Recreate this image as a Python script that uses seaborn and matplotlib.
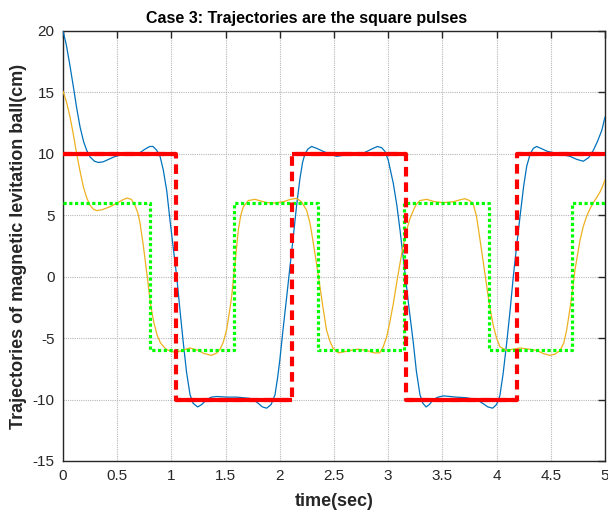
import numpy as np
import pandas as pd
import matplotlib
matplotlib.use("Agg")
import matplotlib.pyplot as plt
import seaborn as sns

# ---- data ----
blue_t = [0, 0.03, 0.06, 0.095, 0.125, 0.157, 0.19, 0.218, 0.25, 0.29, 0.326, 0.37, 0.42, 0.47,
          0.526, 0.6, 0.66, 0.71, 0.76, 0.80, 0.83, 0.864, 0.895, 0.925, 0.957, 0.987, 1.018,
          1.049, 1.08, 1.11, 1.14, 1.172, 1.20, 1.242, 1.28, 1.325, 1.37, 1.418, 1.51, 1.60,
          1.664, 1.72, 1.756, 1.80, 1.84, 1.879, 1.92, 1.956, 1.98, 2.0, 2.03, 2.064, 2.095,
          2.125, 2.155, 2.186, 2.21, 2.232, 2.26, 2.294, 2.34, 2.40, 2.46, 2.525, 2.6, 2.7,
          2.78, 2.85, 2.90, 2.94, 2.97, 3.0, 3.047, 3.08, 3.109, 3.155, 3.19, 3.232, 3.26,
          3.293, 3.32, 3.35, 3.38, 3.416, 3.46, 3.51, 3.63, 3.72, 3.816, 3.87, 3.92, 3.964,
          4.0, 4.03, 4.06, 4.093, 4.125, 4.154, 4.185, 4.216, 4.25, 4.278, 4.31, 4.339, 4.37,
          4.42, 4.47, 4.523, 4.6, 4.677, 4.74, 4.80, 4.85, 4.893, 4.93, 4.97, 5.0]
blue_y = [20.0, 18.9, 17.4, 15.5, 13.8, 12.2, 11.0, 10.3, 9.75, 9.4, 9.3, 9.35, 9.55, 9.75,
          9.9, 9.95, 10.0, 10.1, 10.4, 10.6, 10.6, 10.3, 9.8, 8.7, 7.0, 4.6, 2.3,
          0.0, -2.8, -5.4, -7.8, -9.6, -10.3, -10.6, -10.4, -10.0, -9.8, -9.75, -9.8, -9.8,
          -9.85, -9.9, -10.0, -10.3, -10.6, -10.7, -10.4, -9.6, -8.2, -6.8, -4.3, -1.6, 0.9,
          3.3, 5.8, 8.0, 9.3, 10.0, 10.4, 10.6, 10.45, 10.2, 10.0, 9.8, 9.9, 10.0,
          10.1, 10.4, 10.6, 10.5, 10.2, 9.5, 7.6, 5.8, 3.8, 0.3, -2.4, -5.4, -7.7,
          -9.6, -10.3, -10.6, -10.4, -10.0, -9.8, -9.7, -9.8, -9.85, -10.0, -10.3, -10.6, -10.7,
          -10.4, -9.7, -7.9, -5.4, -2.7, 0.0, 2.5, 4.9, 7.4, 9.0, 10.0, 10.45, 10.6,
          10.4, 10.2, 10.1, 9.95, 9.8, 9.55, 9.4, 9.7, 10.3, 11.0, 11.9, 13.0]

orange_t = [0, 0.03, 0.065, 0.095, 0.126, 0.157, 0.188, 0.22, 0.25, 0.28, 0.31, 0.36, 0.434,
            0.5, 0.55, 0.59, 0.63, 0.66, 0.69, 0.71, 0.74, 0.78, 0.81, 0.84, 0.87, 0.90, 0.95,
            1.0, 1.05, 1.1, 1.17, 1.25, 1.3, 1.37, 1.42, 1.45, 1.48, 1.51, 1.535, 1.556, 1.587,
            1.617, 1.64, 1.664, 1.71, 1.771, 1.83, 1.879, 1.95, 2.03, 2.1, 2.155, 2.2, 2.248,
            2.28, 2.31, 2.34, 2.37, 2.40, 2.43, 2.46, 2.49, 2.54, 2.6, 2.65, 2.72, 2.8, 2.87,
            2.92, 2.95, 2.986, 3.015, 3.047, 3.078, 3.109, 3.14, 3.17, 3.2, 3.232, 3.26, 3.293,
            3.355, 3.43, 3.51, 3.6, 3.66, 3.708, 3.75, 3.785, 3.815, 3.847, 3.88, 3.909, 3.94,
            3.97, 4.0, 4.03, 4.09, 4.15, 4.216, 4.3, 4.37, 4.43, 4.49, 4.54, 4.585, 4.62, 4.647,
            4.67, 4.693, 4.723, 4.77, 4.80, 4.83, 4.86, 4.89, 4.92, 4.954, 4.98, 5.0]
orange_y = [15.1, 14.3, 13.0, 11.6, 10.0, 8.6, 7.3, 6.4, 5.8, 5.5, 5.38, 5.45, 5.7,
            6.0, 6.25, 6.4, 6.3, 5.9, 5.2, 4.4, 2.6, -0.2, -2.4, -3.8, -4.8, -5.4, -5.9,
            -6.1, -6.15, -6.0, -5.8, -6.0, -6.25, -6.4, -6.2, -5.9, -5.3, -4.3, -2.9, -1.6, 1.1,
            3.8, 5.0, 5.7, 6.2, 6.3, 6.15, 6.03, 6.0, 6.1, 6.3, 6.38, 6.1, 5.4,
            4.3, 2.7, 1.0, -0.8, -2.6, -4.3, -5.2, -5.8, -6.2, -6.1, -6.0, -5.9, -6.0, -6.2,
            -6.2, -5.8, -4.9, -3.7, -2.2, -0.5, 1.1, 2.6, 3.8, 4.7, 5.4, 5.9, 6.2,
            6.3, 6.1, 6.03, 6.1, 6.25, 6.35, 6.2, 5.9, 4.9, 3.0, 1.0, -0.8, -2.6,
            -4.0, -5.0, -5.7, -6.0, -5.9, -5.8, -5.9, -6.0, -6.25, -6.4, -6.3, -6.0, -5.4, -4.3,
            -3.0, -1.6, 0.55, 3.0, 4.1, 4.9, 5.5, 6.0, 6.4, 6.9, 7.4, 7.9]

red_switch = [0.0, 1.04, 2.11, 3.16, 4.19, 5.0]
red_levels = [10, -10, 10, -10, 10]
green_switch = [0.0, 0.80, 1.58, 2.35, 3.15, 3.93, 4.70, 5.0]
green_levels = [6, -6, 6, -6, 6, -6, 6]

x_ticks = [0, 0.5, 1, 1.5, 2, 2.5, 3, 3.5, 4, 4.5, 5]
y_ticks = [-15, -10, -5, 0, 5, 10, 15, 20]
title = "Case 3: Trajectories are the square pulses"
xlabel = "time(sec)"
ylabel = "Trajectories of magnetic levitation ball(cm)"


def step_xy(switch, levels):
    xs, ys = [], []
    for i, lv in enumerate(levels):
        xs += [switch[i], switch[i + 1]]
        ys += [lv, lv]
    return xs, ys


sns.set_style("white")
plt.rcParams['font.family'] = ['Liberation Sans', 'DejaVu Sans']
plt.rcParams['axes.unicode_minus'] = False

fig = plt.figure(figsize=(6.08, 5.18), dpi=100)
ax = fig.add_axes([63 / 608, 1 - 461 / 518, (605 - 63) / 608, (461 - 31) / 518])

blue_df = pd.DataFrame({"t": blue_t, "y": blue_y})
orange_df = pd.DataFrame({"t": orange_t, "y": orange_y})

sns.lineplot(data=blue_df, x="t", y="y", ax=ax, sort=False, estimator=None,
             color="#0072BD", lw=0.9, zorder=3)
sns.lineplot(data=orange_df, x="t", y="y", ax=ax, sort=False, estimator=None,
             color="#EDB120", lw=0.9, zorder=3)

gx, gy = step_xy(green_switch, green_levels)
green_df = pd.DataFrame({"t": gx, "y": gy})
sns.lineplot(data=green_df, x="t", y="y", ax=ax, sort=False, estimator=None,
             color="#00FF00", lw=2.3, zorder=4).lines[-1].set_dashes((1, 0.8))

rx, ry = step_xy(red_switch, red_levels)
red_df = pd.DataFrame({"t": rx, "y": ry})
ln = sns.lineplot(data=red_df, x="t", y="y", ax=ax, sort=False, estimator=None,
                  color="#FF0000", lw=3, zorder=5).lines[-1]
ln.set_dashes((2.3, 1.4))
# horizontal parts of the reference appear solid
for i, lv in enumerate(red_levels):
    ax.hlines(lv, red_switch[i], red_switch[i + 1], color="#FF0000", lw=3, zorder=5)

ax.set_xlim(0, 5)
ax.set_ylim(-15, 20)
ax.set_xticks(x_ticks)
ax.set_xticklabels([f"{v:g}" for v in x_ticks])
ax.set_yticks(y_ticks)
ax.set_yticklabels([f"{v:g}" for v in y_ticks])
ax.grid(True, color="#b8b8b8", linestyle=(0, (1, 1)), lw=0.8)
ax.tick_params(direction="in", length=5, width=1, top=True, right=True,
               labelsize=11, colors="#262626", pad=6)
for s in ax.spines.values():
    s.set_color("#262626")
    s.set_linewidth(1.0)
    s.set_visible(True)

fig.text(307 / 608, 1 - 23 / 518, title, fontsize=11.5, fontweight="bold",
         ha="center", va="baseline", color="black")
ax.set_xlabel(xlabel, fontsize=13, fontweight="bold", color="#262626", labelpad=7)
ax.set_ylabel(ylabel, fontsize=13, fontweight="bold", color="#262626", labelpad=4)

fig.savefig("out.png", dpi=100)
